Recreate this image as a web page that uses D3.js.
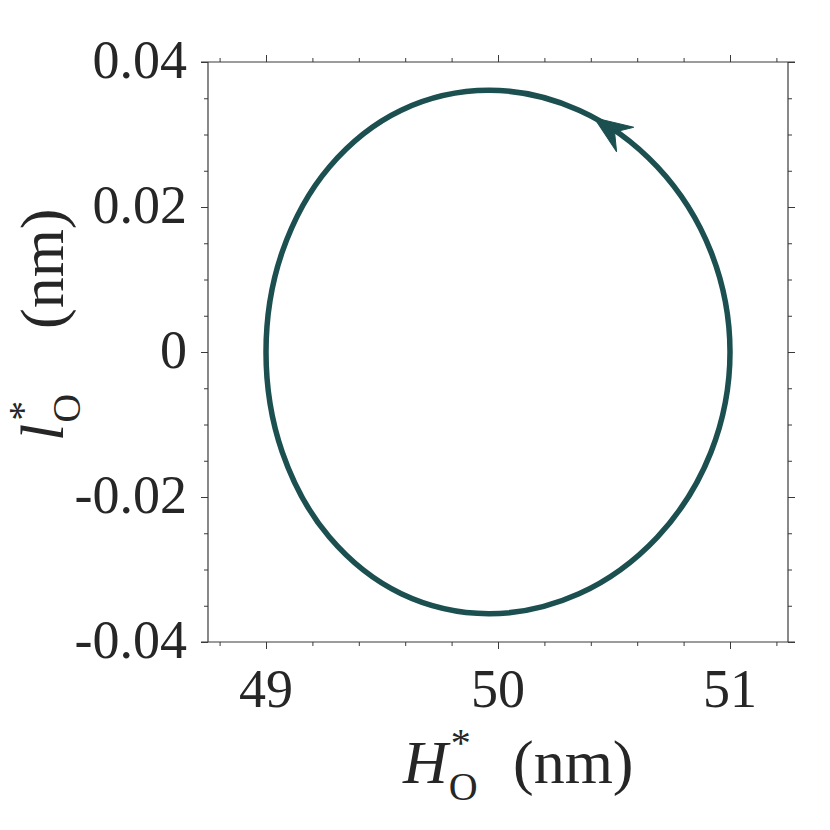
<!DOCTYPE html>
<html><head><meta charset="utf-8">
<script src="https://cdn.jsdelivr.net/npm/d3@7"></script>
<style>body{margin:0;background:#fff}</style>
</head><body>
<svg id="c" width="830" height="830"></svg>
<script>
// ---- data ----
const orbitH = [51.00, 50.918, 50.687, 50.349, 49.96, 49.583, 49.273, 49.070,
                49.00, 49.070, 49.273, 49.583, 49.96, 50.349, 50.687, 50.918];
const orbitL = [0, 0.01381, 0.02553, 0.03335, 0.0361, 0.03335, 0.02553, 0.01381,
                0, -0.01381, -0.02553, -0.03335, -0.0361, -0.03335, -0.02553, -0.01381];
const arrowTip = [50.42, 0.0327];
const xMajor = [49, 50, 51];
const xMajorLabels = ["49", "50", "51"];
const xMinor = [48.8, 49.2, 49.4, 49.6, 49.8, 50.2, 50.4, 50.6, 50.8, 51.2];
const yMajor = [-0.04, -0.02, 0, 0.02, 0.04];
const yMajorLabels = ["-0.04", "-0.02", "0", "0.02", "0.04"];
const yMinor = [-0.035, -0.03, -0.025, -0.015, -0.01, -0.005, 0.005, 0.01, 0.015, 0.025, 0.03, 0.035];
const xDomain = [48.75, 51.25];
const yDomain = [-0.04, 0.04];

// ---- layout ----
const svg = d3.select("#c");
const L0 = 208, R0 = 788, T0 = 62, B0 = 642;
const x = d3.scaleLinear().domain(xDomain).range([L0, R0]);
const y = d3.scaleLinear().domain(yDomain).range([B0, T0]);
const axisColor = "#3a3a3a";
const serif = "'Liberation Serif', 'Times New Roman', serif";
const tickFont = 54, labelFont = 62, scriptFont = 40;
const curveColor = "#1b4f50";
const textColor = "#262626";

// ticks via d3 axes
function tickAxis(axisFn, scale, vals, size, tr) {
  const g = svg.append("g").attr("transform", tr)
    .call(axisFn(scale).tickValues(vals).tickSize(size).tickFormat(""));
  g.select(".domain").remove();
  g.selectAll("line").attr("stroke", axisColor).attr("stroke-width", 1);
}
tickAxis(d3.axisBottom, x, xMajor, 7, `translate(0,${B0})`);
tickAxis(d3.axisBottom, x, xMinor, 4, `translate(0,${B0})`);
tickAxis(d3.axisTop, x, xMajor, 7, `translate(0,${T0})`);
tickAxis(d3.axisTop, x, xMinor, 4, `translate(0,${T0})`);
tickAxis(d3.axisLeft, y, yMajor, 7, `translate(${L0},0)`);
tickAxis(d3.axisLeft, y, yMinor, 4, `translate(${L0},0)`);
tickAxis(d3.axisRight, y, yMajor, 7, `translate(${R0},0)`);
tickAxis(d3.axisRight, y, yMinor, 4, `translate(${R0},0)`);

// box lines
const box = svg.append("g").attr("stroke", axisColor).attr("stroke-width", 1.2).attr("fill", "none");
box.append("line").attr("x1", L0 - 7).attr("x2", R0 + 7).attr("y1", B0).attr("y2", B0);
box.append("line").attr("x1", L0 - 7).attr("x2", R0 + 7).attr("y1", T0).attr("y2", T0);
box.append("line").attr("x1", L0).attr("x2", L0).attr("y1", T0).attr("y2", B0);
box.append("line").attr("x1", R0).attr("x2", R0).attr("y1", T0).attr("y2", B0);

// tick labels
svg.append("g").selectAll("text").data(xMajor).join("text")
  .attr("x", d => x(d)).attr("y", 707)
  .attr("text-anchor", "middle").attr("font-family", serif).attr("font-size", tickFont)
  .attr("fill", textColor).text((d, i) => xMajorLabels[i]);
svg.append("g").selectAll("text").data(yMajor).join("text")
  .attr("x", 187).attr("y", d => y(d) + 16)
  .attr("text-anchor", "end").attr("font-family", serif).attr("font-size", tickFont)
  .attr("fill", textColor).text((d, i) => yMajorLabels[i]);

// orbit
const pts = orbitH.map((h, i) => [h, orbitL[i]]);
const line = d3.line().x(d => x(d[0])).y(d => y(d[1])).curve(d3.curveCatmullRomClosed.alpha(0.5));
const path = svg.append("path").attr("d", line(pts))
  .attr("fill", "none").attr("stroke", curveColor).attr("stroke-width", 5.5);

// arrowhead snapped to the orbit
const pn = path.node(), total = pn.getTotalLength();
const tx = x(arrowTip[0]), ty = y(arrowTip[1]);
let best = 0, bd = Infinity;
for (let s = 0; s <= total; s += 0.5) {
  const p = pn.getPointAtLength(s);
  const d = (p.x - tx) ** 2 + (p.y - ty) ** 2;
  if (d < bd) { bd = d; best = s; }
}
const tip = pn.getPointAtLength(best);
const back = pn.getPointAtLength((best - 55 + total) % total);
const ang = Math.atan2(tip.y - back.y, tip.x - back.x) * 180 / Math.PI;
svg.append("path")
  .attr("d", "M0,0 L-38,-15 L-25,0 L-38,15 Z")
  .attr("transform", `translate(${tip.x},${tip.y}) rotate(${ang})`)
  .attr("fill", curveColor).attr("stroke", curveColor).attr("stroke-width", 1)
  .attr("stroke-linejoin", "miter");

// axis label builder: italic base, superscript *, subscript O, then unit
function makeLabel(g, base, unit, unitX) {
  const t1 = g.append("text").attr("x", 0).attr("y", 0).attr("font-family", serif)
    .attr("font-style", "italic").attr("font-size", labelFont).attr("fill", textColor).text(base);
  const w1 = t1.node().getComputedTextLength();
  g.append("text").attr("x", w1 + 3).attr("y", -27).attr("font-family", serif)
    .attr("font-size", scriptFont).attr("fill", textColor).text("*");
  g.append("text").attr("x", w1 + 1).attr("y", 17).attr("font-family", serif)
    .attr("font-size", scriptFont).attr("fill", textColor).text("O");
  g.append("text").attr("x", unitX).attr("y", 0).attr("font-family", serif)
    .attr("font-size", labelFont).attr("fill", textColor).text(unit);
}
const gx = svg.append("g");
makeLabel(gx, "H", "(nm)", 110);
const bx = gx.node().getBBox();
gx.attr("transform", `translate(${402 - bx.x},783)`);

const gy = svg.append("g");
makeLabel(gy, "l", "(nm)", 112);
const by = gy.node().getBBox();
gy.attr("transform", `translate(63,${441 + by.x}) rotate(-90)`);
</script>
</body></html>
